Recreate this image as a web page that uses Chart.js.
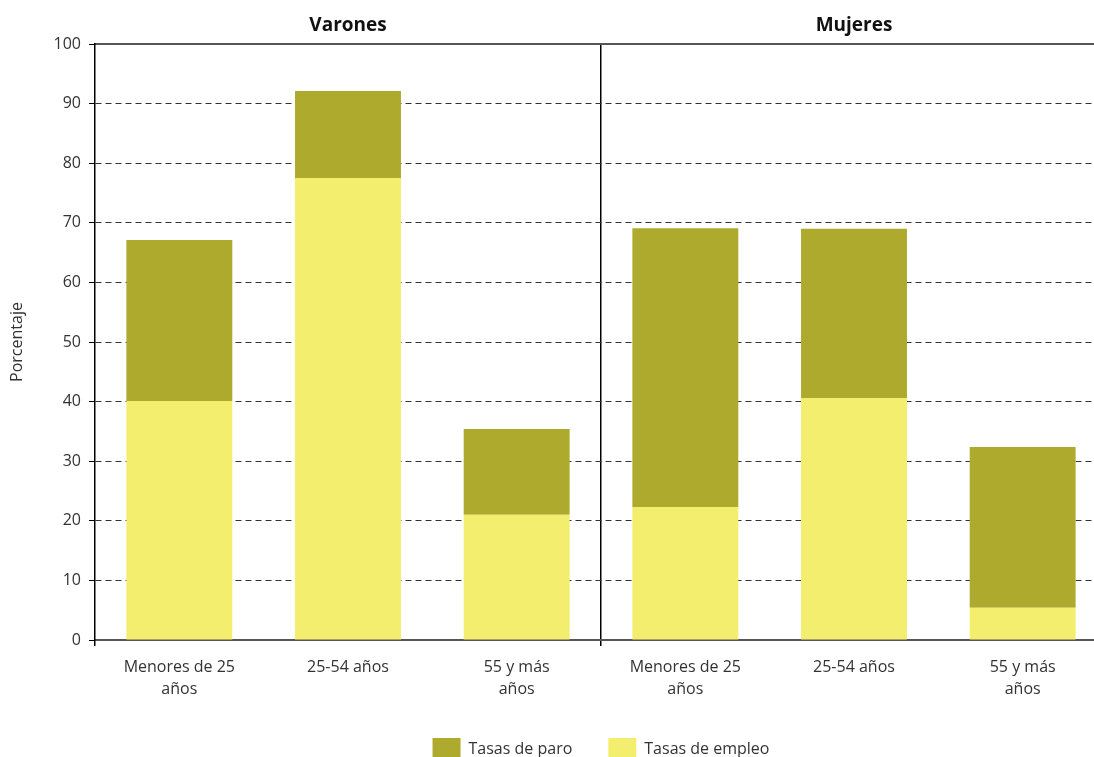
<!DOCTYPE html>
<html>
<head>
<meta charset="utf-8">
<script src="https://cdn.jsdelivr.net/npm/chart.js@4/dist/chart.umd.min.js"></script>
<style>
  html, body { margin: 0; padding: 0; background: #fff; overflow: hidden; }
  #wrap { width: 1110px; height: 770px; position: relative; }
</style>
</head>
<body>
<div id="wrap"><canvas id="chart"></canvas></div>
<script>
// categories, three per panel
var categories = [
    ['Menores de 25', 'años'], '25-54 años', ['55 y más', 'años'],
    ['Menores de 25', 'años'], '25-54 años', ['55 y más', 'años']
];
var panels = ['Varones', 'Mujeres'];
var empleo = [40.1, 77.5, 21.0, 22.3, 40.6, 5.4];
var paro = [27.0, 14.6, 14.4, 46.8, 28.4, 27.0];
var yTicks = [0, 10, 20, 30, 40, 50, 60, 70, 80, 90, 100];

var FONT = "'Open Sans', 'DejaVu Sans', sans-serif";
var TEXT = '#333';

// draws the panel titles above each group of three bars
var panelTitles = {
    id: 'panelTitles',
    afterDraw: function(chart) {
        var ctx = chart.ctx;
        var x = chart.scales.x;
        ctx.save();
        ctx.font = 'bold 19px ' + FONT;
        ctx.fillStyle = '#111';
        ctx.textAlign = 'center';
        ctx.textBaseline = 'middle';
        panels.forEach(function(name, i) {
            ctx.fillText(name, x.getPixelForValue(i * 3 + 1), chart.chartArea.top - 18);
        });
        ctx.restore();
    }
};

Chart.defaults.font.family = FONT;
Chart.defaults.color = TEXT;

new Chart(document.getElementById('chart').getContext('2d'), {
    type: 'bar',
    data: {
        labels: categories,
        datasets: [{
            label: 'Tasas de empleo',
            data: empleo,
            backgroundColor: '#f4ee6f'
        }, {
            label: 'Tasas de paro',
            data: paro,
            backgroundColor: '#aeaa2e'
        }]
    },
    options: {
        responsive: true,
        maintainAspectRatio: false,
        animation: false,
        barPercentage: 0.628,
        categoryPercentage: 1,
        layout: { padding: { top: 44, right: 3, left: 0, bottom: 0 } },
        plugins: {
            legend: {
                position: 'bottom',
                fullSize: false,
                reverse: true,
                labels: {
                    boxWidth: 28,
                    boxHeight: 22,
                    padding: 36,
                    font: { size: 16 },
                    color: TEXT
                }
            },
            tooltip: { enabled: false }
        },
        scales: {
            x: {
                stacked: true,
                afterFit: function(scale) { scale.height = 62; },
                grid: {
                    offset: true,
                    color: function(c) { return c.index === 3 ? '#000' : 'rgba(0,0,0,0)'; },
                    tickColor: function(c) { return (c.index === 0 || c.index === 3) ? '#000' : 'rgba(0,0,0,0)'; },
                    lineWidth: 1.5,
                    tickLength: 6
                },
                border: { color: '#555', width: 2 },
                ticks: {
                    font: { size: 16, lineHeight: 1.375 },
                    color: TEXT,
                    maxRotation: 0,
                    padding: 10
                }
            },
            x2: {
                position: 'top',
                type: 'category',
                labels: categories,
                afterFit: function(scale) { scale.height = 0; },
                grid: { color: 'rgba(0,0,0,0)', drawTicks: false },
                border: { color: '#555', width: 2 },
                ticks: { display: false }
            },
            y: {
                stacked: true,
                min: 0,
                max: 100,
                afterFit: function(scale) { scale.width = 95; },
                afterBuildTicks: function(scale) {
                    scale.ticks = yTicks.map(function(v) { return { value: v }; });
                },
                grid: {
                    color: '#333',
                    tickColor: '#000',
                    tickLength: 6,
                    lineWidth: 1
                },
                border: { color: '#000', width: 1.5, dash: [6, 4] },
                ticks: {
                    font: { size: 16 },
                    color: TEXT,
                    padding: 8
                },
                title: {
                    display: true,
                    text: 'Porcentaje',
                    font: { size: 16 },
                    color: TEXT,
                    padding: { top: 8, bottom: 10 }
                }
            }
        }
    },
    plugins: [panelTitles]
});
</script>
</body>
</html>
